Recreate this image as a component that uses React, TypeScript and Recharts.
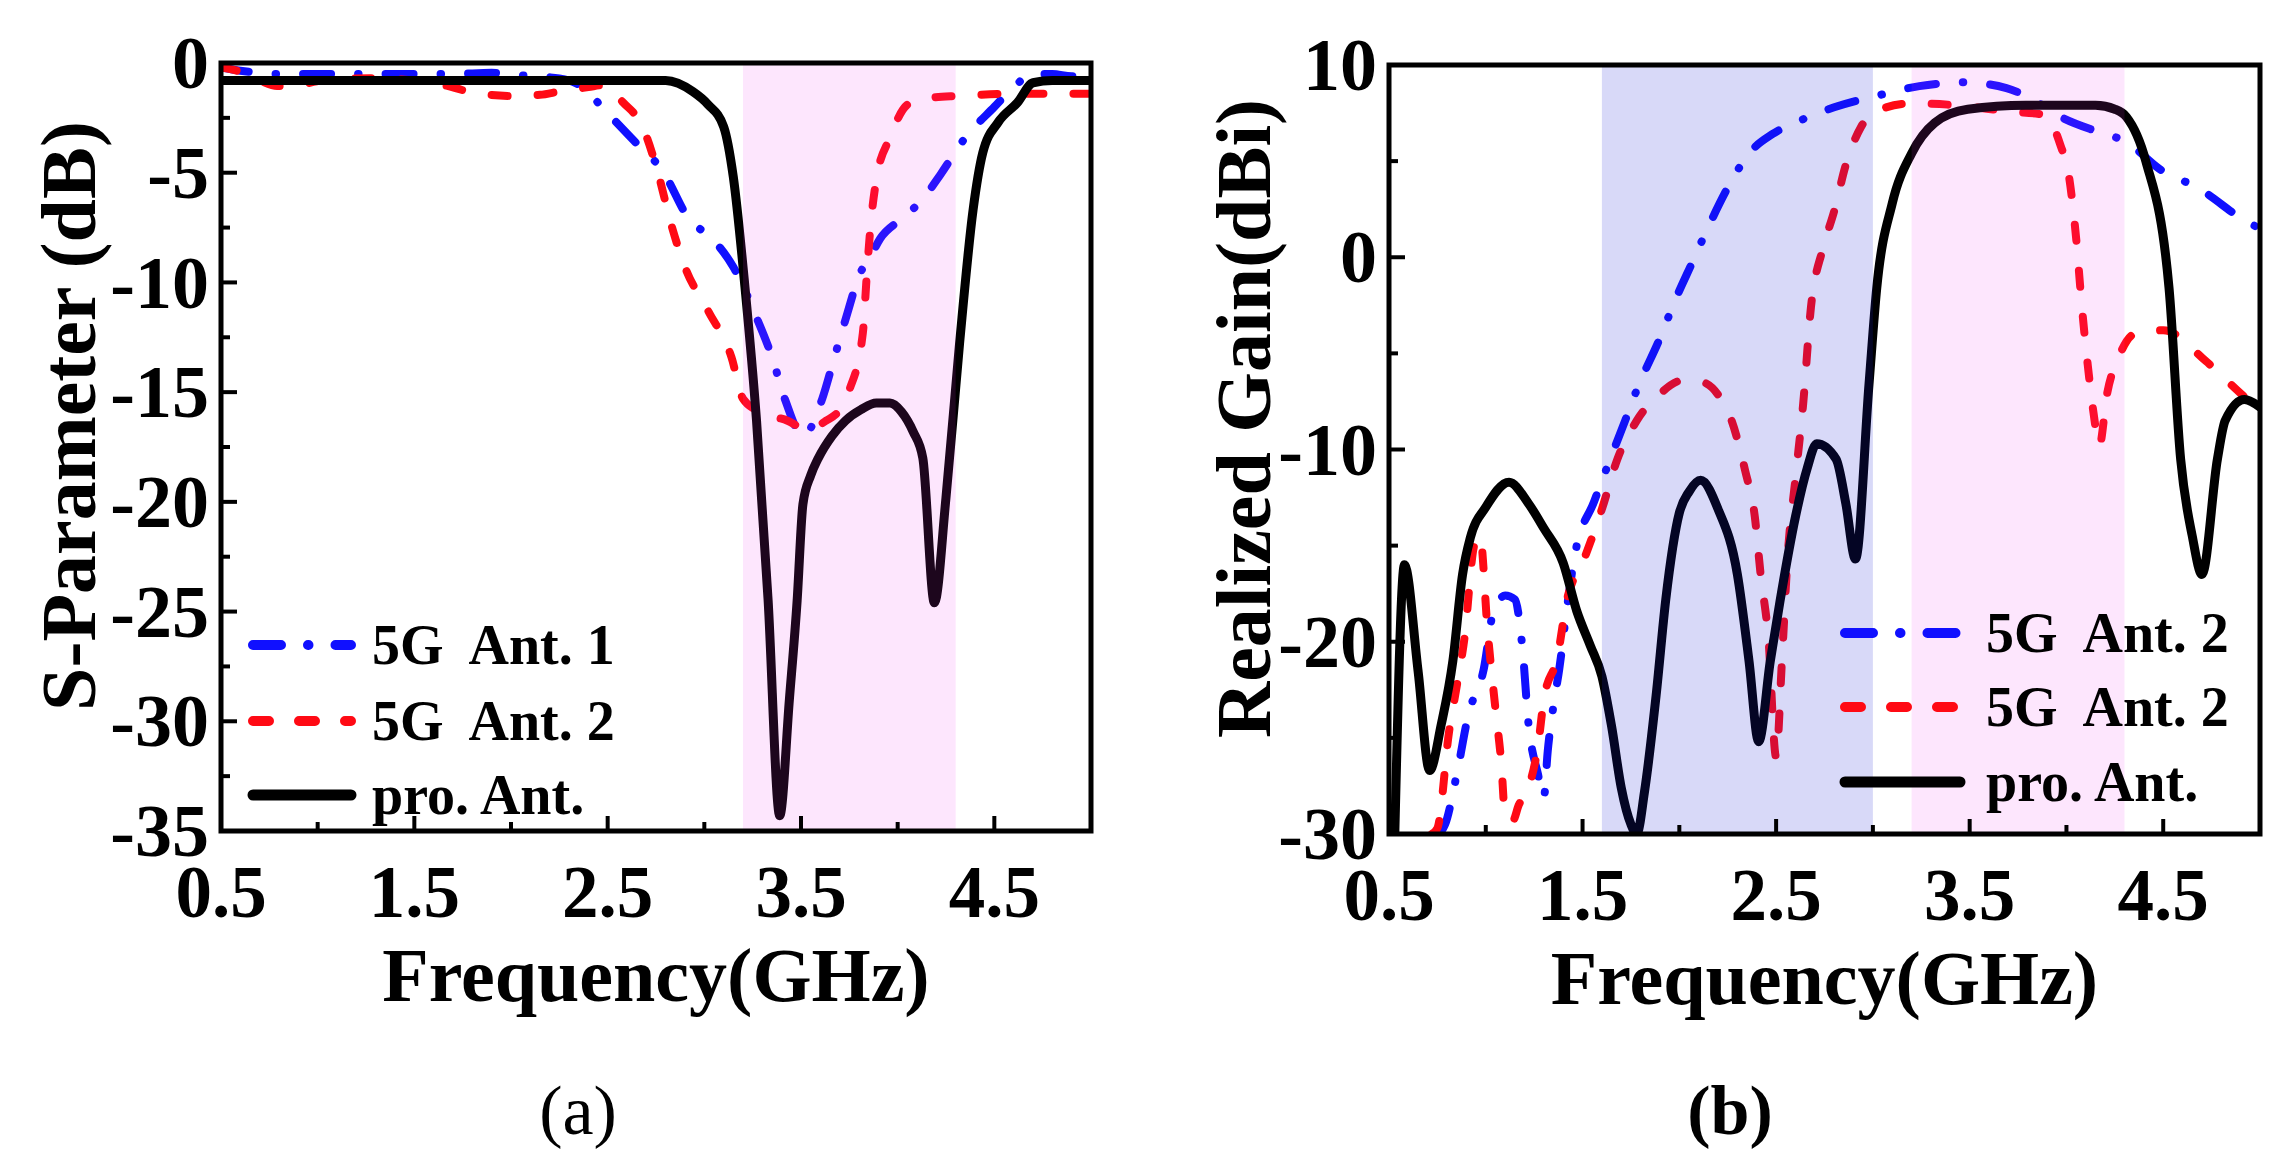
import React from "react";
import { LineChart, Line, XAxis, YAxis, ReferenceArea, Legend, Label } from "recharts";

const FONT = '"Liberation Serif", "Times New Roman", serif';

// ---- (a) S-parameter ----
const saAnt1Freq = [0.5, 0.6, 0.8, 1.0, 1.2, 1.5, 1.7, 1.9, 2.1, 2.25, 2.37, 2.48, 2.62, 2.79, 2.92, 3.04, 3.15, 3.27, 3.35, 3.42, 3.51, 3.61, 3.67, 3.74, 3.8, 3.86, 3.91, 4.02, 4.13, 4.22, 4.35, 4.5, 4.6, 4.7, 4.8, 4.9, 5.0];
const saAnt1Db = [-0.2, -0.35, -0.5, -0.5, -0.5, -0.5, -0.5, -0.45, -0.6, -0.7, -1.1, -2.1, -3.4, -5.0, -7.1, -8.0, -9.3, -11.6, -13.4, -15.4, -17.0, -15.3, -13.5, -11.4, -9.7, -8.8, -8.0, -7.1, -6.2, -5.1, -3.4, -2.0, -1.1, -0.5, -0.5, -0.6, -0.5];

const saAnt2Freq = [0.5, 0.6, 0.7, 0.79, 0.9, 1.02, 1.27, 1.5, 1.65, 1.78, 1.99, 2.15, 2.25, 2.4, 2.48, 2.58, 2.68, 2.76, 2.83, 2.9, 3.02, 3.14, 3.2, 3.29, 3.43, 3.53, 3.63, 3.7, 3.75, 3.82, 3.84, 3.86, 3.89, 3.96, 4.05, 4.15, 4.32, 4.6, 5.0];
const saAnt2Db = [-0.2, -0.4, -0.8, -1.05, -1.0, -0.8, -0.7, -0.8, -1.0, -1.3, -1.5, -1.45, -1.3, -1.1, -1.0, -1.8, -2.9, -5.0, -7.4, -9.3, -11.3, -13.4, -15.3, -15.9, -16.3, -16.7, -16.3, -15.8, -14.9, -12.3, -9.7, -7.4, -5.3, -3.4, -1.9, -1.6, -1.5, -1.4, -1.4];

const saProFreq = [0.5, 1.0, 1.5, 2.0, 2.5, 2.8, 2.94, 3.02, 3.1, 3.15, 3.21, 3.27, 3.33, 3.39, 3.44, 3.48, 3.51, 3.55, 3.59, 3.66, 3.73, 3.81, 3.89, 3.96, 4.02, 4.08, 4.13, 4.19, 4.25, 4.32, 4.39, 4.44, 4.52, 4.62, 4.7, 4.8, 5.0];
const saProDb = [-0.8, -0.8, -0.8, -0.8, -0.8, -0.8, -1.3, -1.9, -2.9, -5.2, -10.2, -16.3, -24.5, -34.3, -29, -24.5, -20.1, -18.8, -18.0, -17.0, -16.3, -15.8, -15.5, -15.5, -15.9, -16.8, -18.0, -24.6, -19.8, -12.8, -6.7, -4.1, -2.7, -1.8, -0.9, -0.8, -0.8];

// ---- (b) realized gain ----
const sbAnt1Freq = [0.76, 0.79, 0.85, 0.91, 0.99, 1.04, 1.1, 1.15, 1.19, 1.22, 1.27, 1.3, 1.32, 1.35, 1.38, 1.42, 1.46, 1.56, 1.62, 1.72, 1.78, 1.9, 1.98, 2.07, 2.16, 2.26, 2.36, 2.48, 2.6, 2.8, 3.02, 3.24, 3.47, 3.69, 3.79, 3.99, 4.17, 4.31, 4.48, 4.68, 4.94, 5.0];
const sbAnt1Dbi = [-30, -29.5, -26.9, -23.8, -21.4, -18.4, -17.6, -17.8, -20.4, -24.2, -26.9, -28.1, -25.7, -23.3, -21.4, -18.2, -15.5, -12.7, -11.1, -8.5, -6.9, -4.2, -2.2, -0.2, 1.8, 3.8, 5.4, 6.4, 7.0, 7.8, 8.4, 8.9, 9.1, 8.8, 8.4, 7.2, 6.5, 6.0, 4.6, 3.6, 1.8, 1.5];

const sbAnt2Freq = [0.72, 0.75, 0.81, 0.85, 0.89, 0.94, 0.97, 1.01, 1.05, 1.08, 1.1, 1.14, 1.17, 1.22, 1.27, 1.3, 1.37, 1.42, 1.5, 1.6, 1.68, 1.78, 1.9, 2.02, 2.12, 2.21, 2.27, 2.34, 2.39, 2.42, 2.46, 2.5, 2.53, 2.56, 2.6, 2.64, 2.68, 2.74, 2.8, 2.86, 2.94, 3.04, 3.2, 3.44, 3.69, 3.89, 3.97, 4.01, 4.05, 4.08, 4.11, 4.14, 4.17, 4.21, 4.27, 4.35, 4.5, 4.72, 4.88, 5.0];
const sbAnt2Dbi = [-30, -29.7, -24.7, -22.3, -19.8, -15.0, -14.5, -19.5, -23.5, -26.3, -29.0, -29.3, -28.5, -27.6, -25.4, -23.0, -20.8, -17.8, -15.9, -13.1, -10.5, -8.5, -7.1, -6.4, -6.5, -7.3, -8.5, -11.1, -13.5, -16.5, -19.8, -26.0, -21, -15.5, -11.5, -7.6, -2.6, 0.4, 2.4, 4.8, 6.8, 7.7, 8.0, 7.9, 7.6, 7.4, 5.8, 4.4, 1.0, -2.6, -5.6, -8.1, -9.8, -7.1, -5.2, -4.0, -3.8, -5.4, -6.9, -8.0];

const sbProFreq = [0.53, 0.58, 0.65, 0.71, 0.77, 0.83, 0.88, 0.92, 1.0, 1.12, 1.22, 1.3, 1.4, 1.47, 1.54, 1.6, 1.65, 1.7, 1.75, 1.78, 1.82, 1.88, 1.93, 2.0, 2.05, 2.11, 2.2, 2.3, 2.36, 2.41, 2.47, 2.52, 2.6, 2.66, 2.71, 2.81, 2.86, 2.91, 2.98, 3.02, 3.1, 3.2, 3.32, 3.49, 3.79, 4.15, 4.25, 4.31, 4.41, 4.53, 4.59, 4.65, 4.7, 4.78, 4.82, 4.92, 5.0];
const sbProDbi = [-30, -16, -21.5, -26.7, -24.3, -21, -16.5, -14.6, -13.0, -11.7, -12.8, -14.1, -15.9, -18.4, -20.2, -21.8, -24.4, -27.6, -29.5, -30, -27.8, -22.8, -17.8, -13.3, -12.2, -11.6, -13.1, -16.5, -21, -25.2, -21, -17.9, -13.5, -11.0, -9.7, -10.5, -12.8, -15.7, -6.6, -1.6, 2.8, 5.4, 7.0, 7.7, 7.9, 7.9, 7.7, 7.3, 5.0, -1.6, -10.5, -14.5, -16.5, -10.5, -8.5, -7.4, -7.8];

// ticks
const xTicks = [0.5, 1.0, 1.5, 2.0, 2.5, 3.0, 3.5, 4.0, 4.5];
const xMajor = [0.5, 1.5, 2.5, 3.5, 4.5];
const yTicksA = [-35, -32.5, -30, -27.5, -25, -22.5, -20, -17.5, -15, -12.5, -10, -7.5, -5, -2.5, 0];
const yMajorA = [-35, -30, -25, -20, -15, -10, -5, 0];
const yTicksB = [-30, -25, -20, -15, -10, -5, 0, 5, 10];
const yMajorB = [-30, -20, -10, 0, 10];

const zip = (f: number[], v: number[]) => f.map((x, i) => ({ f: x, v: v[i] }));
const isIn = (list: number[], v: number) => list.some((m) => Math.abs(m - v) < 1e-6);

const BLUE = { stroke: "#1010ff", strokeWidth: 8, strokeDasharray: "28 27 0.5 27" };
const RED = { stroke: "#ff0a14", strokeWidth: 8, strokeDasharray: "16 30" };
const BLACK = { stroke: "#000000", strokeWidth: 9, strokeDasharray: undefined as string | undefined };

function XTick(props: any) {
  const { x, y, payload, majors } = props;
  const major = isIn(majors, payload.value);
  return (
    <g>
      <line x1={x} x2={x} y1={y} y2={y - (major ? 15 : 9)} stroke="#000" strokeWidth={4} />
      {major && (
        <text x={x} y={y + 86} textAnchor="middle" fontFamily={FONT} fontWeight="bold" fontSize={73} fill="#000">
          {payload.value.toFixed(1)}
        </text>
      )}
    </g>
  );
}

function YTick(props: any) {
  const { x, y, payload, majors } = props;
  const major = isIn(majors, payload.value);
  return (
    <g>
      <line x1={x} x2={x + (major ? 16 : 9)} y1={y} y2={y} stroke="#000" strokeWidth={4} />
      {major && (
        <text x={x - 12} y={y} dy="0.34em" textAnchor="end" fontFamily={FONT} fontWeight="bold" fontSize={74} fill="#000">
          {String(payload.value)}
        </text>
      )}
    </g>
  );
}

function XTitle(props: any) {
  const { viewBox, text } = props;
  const { x, y, width } = viewBox;
  return (
    <text x={x + width / 2} y={y + 170} textAnchor="middle" fontFamily={FONT} fontWeight="bold" fontSize={76} fill="#000">
      {text}
    </text>
  );
}

function YTitle(props: any) {
  const { viewBox, text, inset } = props;
  const { x, y, width, height } = viewBox;
  const cx = x + width - inset;
  const cy = y + height / 2 - 31;
  return (
    <text transform={`translate(${cx},${cy}) rotate(-90)`} textAnchor="middle" fontFamily={FONT} fontWeight="bold" fontSize={78} fill="#000">
      {text}
    </text>
  );
}

type LegendItem = { name: string; style: { stroke: string; strokeWidth: number; strokeDasharray?: string } };

function LegendBox({ items, x1, x2, tx, rows, w, h }: { items: LegendItem[]; x1: number; x2: number; tx: number; rows: number[]; w: number; h: number }) {
  return (
    <svg width={w} height={h} style={{ overflow: "visible", pointerEvents: "none" }}>
      {items.map((it, i) => (
        <g key={i}>
          <line x1={x1} x2={x2} y1={rows[i]} y2={rows[i]} stroke={it.style.stroke} strokeWidth={it.style.strokeWidth + 2} strokeDasharray={it.style.strokeDasharray} strokeLinecap="round" />
          <text x={tx} y={rows[i]} dy="0.34em" fontFamily={FONT} fontWeight="bold" fontSize={56} fill="#000" style={{ whiteSpace: "pre" }}>
            {it.name}
          </text>
        </g>
      ))}
    </svg>
  );
}

const legendA: LegendItem[] = [
  { name: "5G  Ant. 1", style: BLUE },
  { name: "5G  Ant. 2", style: RED },
  { name: "pro. Ant.", style: BLACK },
];
const legendB: LegendItem[] = [
  { name: "5G  Ant. 2", style: BLUE },
  { name: "5G  Ant. 2", style: RED },
  { name: "pro. Ant.", style: BLACK },
];

const W = 1140;
const H = 1160;

function Panel(props: {
  series: { data: { f: number; v: number }[]; style: any }[];
  yDomain: [number, number];
  yTicks: number[];
  yMajor: number[];
  yAxisWidth: number;
  margin: { top: number; right: number; bottom: number; left: number };
  yTitle: string;
  titleInset: number;
  bands: { x1: number; x2: number; fill: string; opacity: number }[];
  legend: LegendItem[];
  legendPos: { x1: number; x2: number; tx: number; rows: number[] };
}) {
  const { series, yDomain, yTicks, yMajor, yAxisWidth, margin, yTitle, titleInset, bands, legend, legendPos } = props;
  return (
    <LineChart width={W} height={H} margin={margin}>
      <XAxis
        type="number"
        dataKey="f"
        domain={[0.5, 5]}
        ticks={xTicks}
        interval={0}
        allowDataOverflow
        axisLine={false}
        tickLine={false}
        tickSize={0}
        tickMargin={0}
        height={100}
        tick={<XTick majors={xMajor} />}
      >
        <Label content={<XTitle text="Frequency(GHz)" />} />
      </XAxis>
      <YAxis
        type="number"
        dataKey="v"
        domain={yDomain}
        ticks={yTicks}
        interval={0}
        allowDataOverflow
        axisLine={false}
        tickLine={false}
        tickSize={0}
        tickMargin={0}
        width={yAxisWidth}
        tick={<YTick majors={yMajor} />}
      >
        <Label content={<YTitle text={yTitle} inset={titleInset} />} />
      </YAxis>
      {series.map((s, i) => (
        <Line
          key={i}
          data={s.data}
          dataKey="v"
          type="monotone"
          stroke={s.style.stroke}
          strokeWidth={s.style.strokeWidth}
          strokeDasharray={s.style.strokeDasharray}
          strokeLinecap="round"
          strokeLinejoin="round"
          dot={false}
          activeDot={false}
          isAnimationActive={false}
        />
      ))}
      {bands.map((b, i) => (
        <ReferenceArea key={`b${i}`} x1={b.x1} x2={b.x2} fill={b.fill} fillOpacity={b.opacity} stroke="none" zIndex={600} />
      ))}
      <ReferenceArea x1={0.5} x2={5} y1={yDomain[0]} y2={yDomain[1]} fill="none" stroke="#000" strokeWidth={5} zIndex={700} />
      <Legend
        layout="vertical"
        align="center"
        verticalAlign="middle"
        wrapperStyle={{ left: 0, top: 0, width: W, height: H, pointerEvents: "none" }}
        content={() => <LegendBox items={legend} w={W} h={H} {...legendPos} />}
      />
    </LineChart>
  );
}

export default function App() {
  return (
    <div style={{ position: "absolute", left: 0, top: 0, width: 2280, height: 1160, background: "#fff" }}>
      <div style={{ position: "absolute", left: 0, top: 0 }}>
        <Panel
          series={[
            { data: zip(saAnt1Freq, saAnt1Db), style: BLUE },
            { data: zip(saAnt2Freq, saAnt2Db), style: RED },
            { data: zip(saProFreq, saProDb), style: BLACK },
          ]}
          yDomain={[-35, 0]}
          yTicks={yTicksA}
          yMajor={yMajorA}
          yAxisWidth={221}
          margin={{ top: 63, right: 49, bottom: 229, left: 0 }}
          yTitle="S-Parameter (dB)"
          titleInset={126}
          bands={[{ x1: 3.2, x2: 4.3, fill: "#ee2fee", opacity: 0.12 }]}
          legend={legendA}
          legendPos={{ x1: 253, x2: 351, tx: 372, rows: [645, 721, 795] }}
        />
      </div>
      <div style={{ position: "absolute", left: 1140, top: 0 }}>
        <Panel
          series={[
            { data: zip(sbAnt1Freq, sbAnt1Dbi), style: BLUE },
            { data: zip(sbAnt2Freq, sbAnt2Dbi), style: RED },
            { data: zip(sbProFreq, sbProDbi), style: BLACK },
          ]}
          yDomain={[-30, 10]}
          yTicks={yTicksB}
          yMajor={yMajorB}
          yAxisWidth={249}
          margin={{ top: 65, right: 20, bottom: 226, left: 0 }}
          yTitle="Realized Gain(dBi)"
          titleInset={119}
          bands={[
            { x1: 1.6, x2: 3.0, fill: "#1a1fd6", opacity: 0.17 },
            { x1: 3.2, x2: 4.3, fill: "#ee2fee", opacity: 0.12 },
          ]}
          legend={legendB}
          legendPos={{ x1: 705, x2: 820, tx: 846, rows: [633, 707, 782] }}
        />
      </div>
      <div style={{ position: "absolute", left: 0, top: 1132 - 56, width: 1156, textAlign: "center", fontFamily: FONT, fontSize: 70, lineHeight: "70px" }}>
        (a)
      </div>
      <div style={{ position: "absolute", left: 1140, top: 1132 - 56, width: 1180, textAlign: "center", fontFamily: FONT, fontSize: 70, fontWeight: "bold", lineHeight: "70px" }}>
        (b)
      </div>
    </div>
  );
}
